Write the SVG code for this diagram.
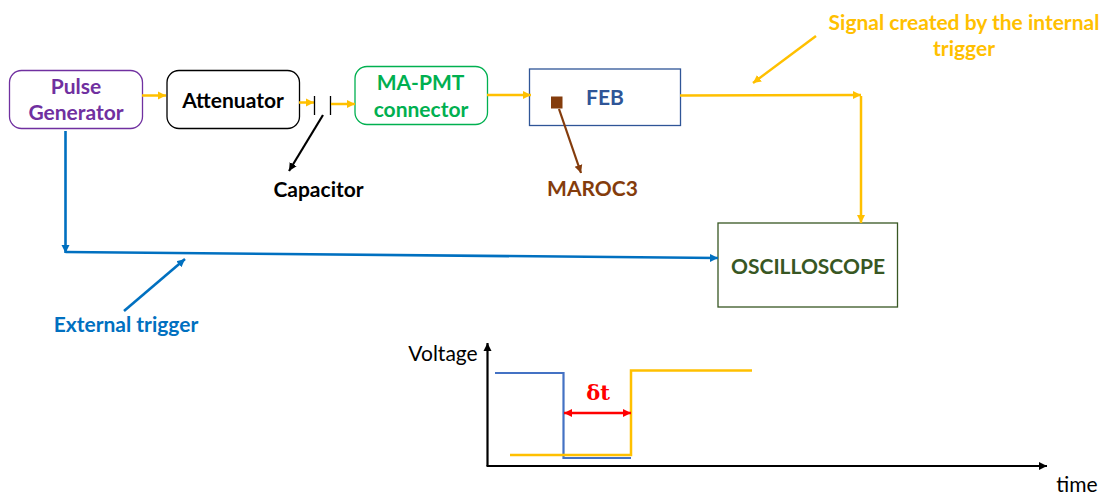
<svg xmlns="http://www.w3.org/2000/svg" width="1106" height="495" viewBox="0 0 1106 495">
<style>
text{font-family:Lato,"Open Sans","Liberation Sans",sans-serif;font-weight:700;font-size:21px;text-anchor:middle}
.n{fill:#fff;stroke-width:1.300}
.y{stroke:#ffc000;fill:none;stroke-width:2.500}
.b{stroke:#0070c0;fill:none;stroke-width:2.600}
.k{stroke:#000;fill:none}
</style>
<defs>
<marker id="ay" markerUnits="userSpaceOnUse" markerWidth="9" markerHeight="9" refX="8" refY="4.500" orient="auto"><path d="M0 0.500L8 4.500L0 8.500z" fill="#ffc000"/></marker>
<marker id="ab" markerUnits="userSpaceOnUse" markerWidth="9" markerHeight="9" refX="8" refY="4.500" orient="auto"><path d="M0 0.500L8 4.500L0 8.500z" fill="#0070c0"/></marker>
<marker id="ak" markerUnits="userSpaceOnUse" markerWidth="9" markerHeight="9" refX="8" refY="4.500" orient="auto"><path d="M0 0.500L8 4.500L0 8.500z" fill="#000"/></marker>
<marker id="am" markerUnits="userSpaceOnUse" markerWidth="9" markerHeight="9" refX="8" refY="4.500" orient="auto"><path d="M0 0.500L8 4.500L0 8.500z" fill="#843c0c"/></marker>
<marker id="ar" markerUnits="userSpaceOnUse" markerWidth="9" markerHeight="9" refX="8" refY="4.500" orient="auto-start-reverse"><path d="M0 0.500L8 4.500L0 8.500z" fill="#f00"/></marker>
</defs>
<g id="pulse-generator"><rect class="n" x="9.500" y="70.500" width="133" height="58" rx="12" stroke="#7030a0"/><text fill="#7030a0" x="76" y="93.500">Pulse</text><text fill="#7030a0" x="76" y="120">Generator</text></g>
<g id="attenuator"><rect class="n" x="167" y="70.500" width="132.500" height="58" rx="12" stroke="#000"/><text fill="#000" x="233" y="107.500">Attenuator</text></g>
<g id="ma-pmt"><rect class="n" x="355" y="66.500" width="132.500" height="58" rx="12" stroke="#00b050"/><text fill="#00b050" x="420.500" y="89.500" font-size="20">MA-PMT</text><text fill="#00b050" x="421" y="116.500" font-size="20.500">connector</text></g>
<g id="feb"><rect class="n" x="529.500" y="69" width="151" height="56.500" stroke="#2f5597"/><text fill="#2f5597" x="605" y="104.500" font-size="20">FEB</text><rect x="551" y="96.500" width="11.500" height="12" fill="#843c0c"/></g>
<g id="oscilloscope"><rect class="n" x="718" y="223" width="179.500" height="84" stroke="#385723"/><text fill="#385723" x="808" y="274" font-size="22.600">OSCILLOSCOPE</text></g>
<g id="connectors">
<path class="y" d="M142 95.500H166" marker-end="url(#ay)"/>
<path class="y" d="M299 102.500H314" marker-end="url(#ay)"/>
<path class="k" stroke-width="1.300" d="M314.500 96V115M330.500 96V115"/>
<path class="y" d="M331 104H355" marker-end="url(#ay)"/>
<path class="y" d="M487 95H531" marker-end="url(#ay)"/>
<path class="y" d="M680 95.500L861 95" marker-end="url(#ay)"/>
<path class="y" d="M861 96V223" marker-end="url(#ay)"/>
<path class="y" d="M816 36L753 83" marker-end="url(#ay)"/>
<path class="b" d="M65.500 131V253" marker-end="url(#ab)"/>
<path class="b" d="M65.500 252L718 258" marker-end="url(#ab)"/>
<path class="b" d="M124 311L185 259" marker-end="url(#ab)"/>
<path class="k" stroke-width="2.200" d="M323 115L289 171" marker-end="url(#ak)"/>
<path stroke="#843c0c" fill="none" stroke-width="2.200" d="M559 109L581 173" marker-end="url(#am)"/>
</g>
<g id="labels">
<text fill="#000" x="318.500" y="196.500" font-size="20.500">Capacitor</text>
<text fill="#843c0c" x="592.500" y="195.500" font-size="20">MAROC3</text>
<text fill="#ffc000" x="964" y="29.500">Signal created by the internal</text>
<text fill="#ffc000" x="964" y="55.500">trigger</text>
<text fill="#0070c0" x="126" y="331.500">External trigger</text>
</g>
<g id="chart">
<path class="k" stroke-width="2.200" d="M487.500 466V343" marker-end="url(#ak)"/>
<path class="k" stroke-width="2.200" d="M486.500 466H1047" marker-end="url(#ak)"/>
<path fill="none" stroke="#4472c4" stroke-width="2.200" d="M495 373H563.500V458H631"/>
<path class="y" d="M510 455H631V370.500H752"/>
<path fill="none" stroke="#f00" stroke-width="2.400" d="M564 413H631" marker-start="url(#ar)" marker-end="url(#ar)"/>
<text fill="#f00" x="598" y="400" style="font-family:'DejaVu Serif',serif" font-size="20">δt</text>
<text fill="#000" x="443" y="360.500" style="font-weight:400" font-size="20.700">Voltage</text>
<text fill="#000" x="1077" y="491.500" style="font-weight:400" font-size="20.700">time</text>
</g>
</svg>
